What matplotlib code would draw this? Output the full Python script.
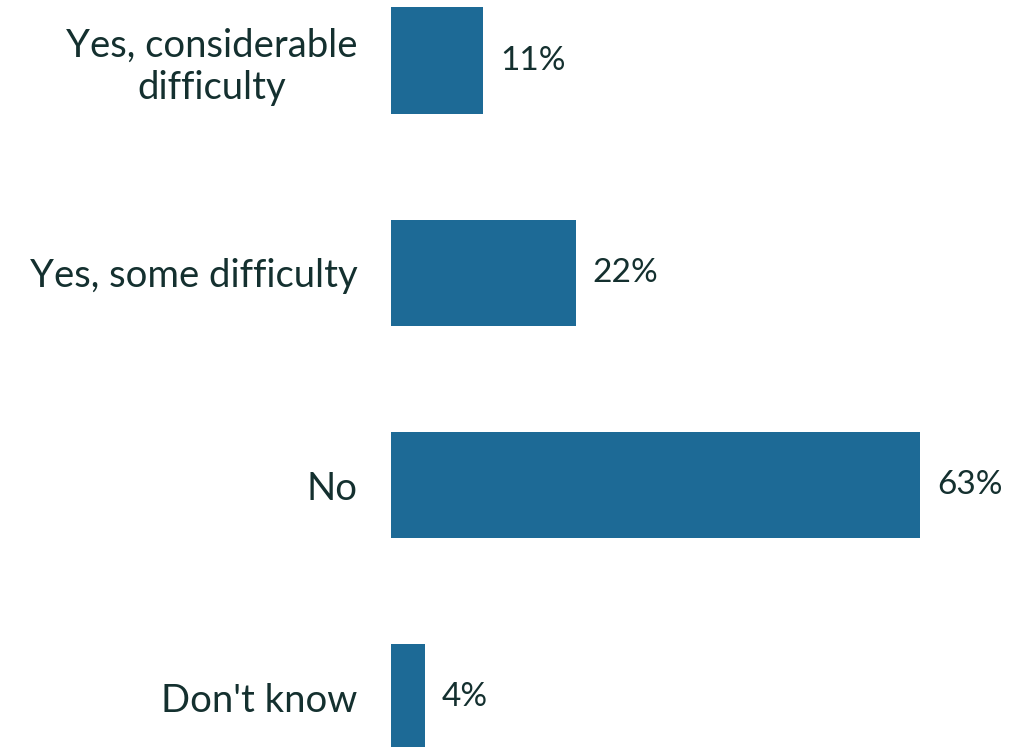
import matplotlib
matplotlib.use("Agg")
import matplotlib.pyplot as plt

categories = ["Yes, considerable\ndifficulty", "Yes, some difficulty", "No", "Don't know"]
values = [11, 22, 63, 4]
value_labels = ["11%", "22%", "63%", "4%"]

bar_color = "#1d6a96"
text_color = "#14302f"

plt.rcParams['font.family'] = ['Lato', 'DejaVu Sans']

fig = plt.figure(figsize=(10.10, 7.47), dpi=100)
ax = fig.add_axes([391/1010, 0, 1 - 391/1010, 1])

pos = list(range(len(categories)))
ax.barh(pos, values, height=0.5, color=bar_color)
ax.set_xlim(0, (1010 - 391) / 8.4)
ax.set_ylim(3 + (747 - 697.5) / 212.3, -60.5 / 212.3)

for p, v, lab in zip(pos, values, value_labels):
    ax.annotate(lab, (v, p), xytext=(12, 0), textcoords="offset points",
                ha="left", va="center", fontsize=24, color=text_color)

ax.set_yticks(pos)
ax.set_yticklabels(categories, fontsize=27.5, color=text_color, linespacing=1.2)
for t in ax.get_yticklabels():
    t.set_horizontalalignment("right")
    t.set_multialignment("center")
ax.tick_params(axis="y", length=0, pad=24)
ax.set_xticks([])
for s in ax.spines.values():
    s.set_visible(False)

fig.savefig("out.png", dpi=100)
